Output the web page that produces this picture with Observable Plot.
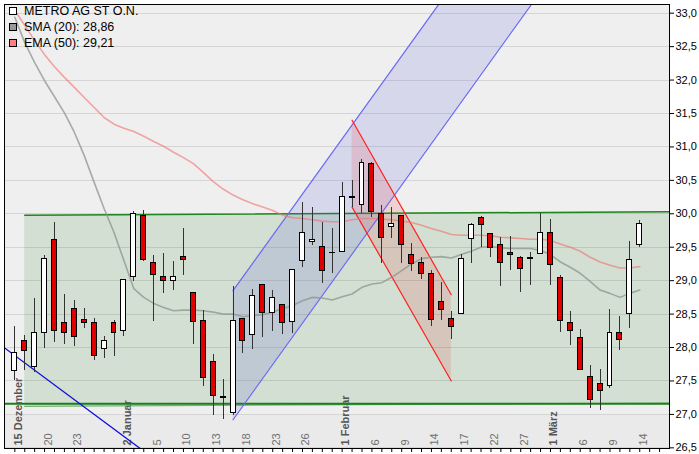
<!DOCTYPE html>
<html><head><meta charset="utf-8">
<script src="https://cdn.jsdelivr.net/npm/d3@7"></script>
<script src="https://cdn.jsdelivr.net/npm/@observablehq/plot@0.6"></script>
<style>
body{margin:0;background:#fff;font-family:"Liberation Sans",Arial,sans-serif;}
#wrap{position:relative;width:699px;height:454px;}
.leg{position:absolute;left:9px;height:14px;font-size:12.5px;color:#000;display:flex;align-items:center;white-space:nowrap;}
.sw{width:6px;height:6px;border:1px solid #000;margin-right:7px;}
</style></head><body><div id="wrap"></div>
<script>
// Trading-day index 0..63 = 15 Dec 2011 .. 14 Mar 2012
const open  = [27.65,28.10,27.71,28.22,29.61,28.36,28.58,28.41,28.36,27.98,28.36,28.24,29.05,29.97,29.27,29.05,29.00,29.36,28.82,28.40,27.79,27.26,27.02,28.43,28.18,28.94,28.51,28.63,28.38,29.30,29.58,29.51,29.42,29.43,30.25,30.13,30.75,29.99,29.80,29.96,29.39,29.26,29.10,28.68,28.43,28.50,29.63,29.93,29.70,29.54,29.42,29.34,29.34,29.40,29.72,29.04,28.36,28.15,27.56,27.46,27.42,28.21,28.50,29.54];
const high  = [28.31,28.18,28.74,29.38,29.87,28.80,28.70,28.58,28.44,28.17,28.40,29.02,30.03,30.05,29.38,29.41,29.29,29.78,28.83,28.56,27.90,27.52,28.92,28.44,28.87,28.95,28.85,28.65,29.16,30.17,30.09,29.87,29.78,30.47,30.50,30.81,30.76,30.12,30.09,29.97,29.55,29.34,29.15,28.97,28.54,29.39,29.86,29.96,29.71,29.65,29.66,29.36,29.42,30.01,29.91,29.08,28.54,28.27,27.73,27.67,28.57,28.46,29.59,29.90];
const low   = [27.50,27.65,27.62,27.99,28.08,28.05,28.01,28.28,27.80,27.83,27.87,28.16,28.99,29.28,28.39,28.81,28.86,29.08,28.04,27.41,26.99,26.92,26.99,27.91,27.97,28.15,28.24,28.19,28.21,29.20,29.52,28.96,29.10,29.43,30.10,30.01,29.95,29.26,29.63,29.26,29.13,29.01,28.32,28.41,28.12,28.49,29.25,29.49,29.34,28.92,29.15,28.83,28.93,29.40,28.93,28.23,28.03,27.67,27.09,27.06,27.39,27.95,28.29,29.50];
const close = [27.92,27.95,28.22,29.33,28.24,28.22,28.16,28.37,27.88,28.10,28.21,29.01,30.00,29.31,29.09,29.00,29.06,29.31,28.38,27.54,27.27,27.24,28.39,28.10,28.77,28.51,28.74,28.36,29.16,29.72,29.61,29.15,29.41,30.25,30.24,30.76,30.02,29.64,29.85,29.54,29.25,29.10,28.41,28.56,28.31,29.32,29.83,29.83,29.49,29.27,29.39,29.17,29.33,29.72,29.23,28.39,28.24,27.67,27.21,27.35,28.21,28.12,29.31,29.85];
const sma20 = [32.94,32.56,32.26,31.99,31.75,31.51,31.22,30.87,30.47,30.08,29.72,29.30,28.88,28.75,28.66,28.60,28.55,28.56,28.56,28.55,28.53,28.50,28.50,28.46,28.48,28.49,28.53,28.58,28.63,28.70,28.75,28.74,28.71,28.76,28.80,28.90,28.95,28.97,29.05,29.15,29.25,29.33,29.35,29.36,29.34,29.39,29.44,29.50,29.51,29.49,29.48,29.48,29.48,29.45,29.39,29.28,29.20,29.11,28.99,28.86,28.81,28.75,28.81,28.86];
const ema50 = [33.04,32.82,32.59,32.38,32.20,32.04,31.89,31.74,31.59,31.44,31.34,31.28,31.23,31.16,31.08,31.01,30.92,30.84,30.75,30.62,30.48,30.37,30.28,30.21,30.15,30.10,30.05,29.98,29.94,29.93,29.91,29.89,29.88,29.88,29.91,29.93,29.93,29.92,29.91,29.89,29.87,29.83,29.78,29.74,29.69,29.68,29.68,29.68,29.67,29.65,29.64,29.63,29.62,29.62,29.60,29.55,29.50,29.44,29.35,29.28,29.23,29.19,29.19,29.21];

const xLabelIdx  = [0,3,6,11,14,17,20,23,26,29,33,36,39,42,45,48,51,54,57,60,63];
const xLabelText = ["15 Dezember","20","23","2 Januar","5","10","13","18","23","26","1 Februar","6","9","14","17","22","27","1 März","6","9","14"];
const xLabelMonth = [true,false,false,true,false,false,false,false,false,false,true,false,false,false,false,false,false,true,false,false,false];
const yTicks = [26.5,27.0,27.5,28.0,28.5,29.0,29.5,30.0,30.5,31.0,31.5,32.0,32.5,33.0];

// drawn channels / trend lines (index, price)
const greenX = [1, 66], greenUpper = [29.98, 30.03], greenLower = [27.12, 27.17];
const supportX = [-1.04, 66], supportY = [27.16, 27.16];
const blueX = [22, 53], blueUpper = [28.85, 35.25], blueLower = [26.92, 33.32];
const redX = [34, 44], redUpper = [31.40, 28.79], redLower = [30.10, 27.50];
const trendX = [-2, 14], trendY = [28.10, 26.34];

const candles = open.map((o, i) => ({i, o, h: high[i], l: low[i], c: close[i]}));
const labels = xLabelIdx.map((i, k) => ({i, t: xLabelText[k], m: xLabelMonth[k]}));
const green = greenX.map((x, k) => ({x, u: greenUpper[k], l: greenLower[k]}));
const blue = blueX.map((x, k) => ({x, u: blueUpper[k], l: blueLower[k]}));
const red = redX.map((x, k) => ({x, u: redUpper[k], l: redLower[k]}));
const support = supportX.map((x, k) => ({x, y: supportY[k]}));
const trend = trendX.map((x, k) => ({x, y: trendY[k]}));
const sma = sma20.map((v, i) => ({i, v}));
const ema = ema50.map((v, i) => ({i, v}));

const fmt = v => v.toFixed(2).replace(".", ",");

const chart = Plot.plot({
  width: 699, height: 454,
  marginLeft: 4, marginRight: 30, marginTop: 4, marginBottom: 6,
  x: {type: "linear", domain: [-1.04, 66.0], label: null},
  y: {domain: [26.49, 33.13], label: null},
  style: {fontFamily: "Liberation Sans, Arial, sans-serif", fontSize: "11px", background: "#fff"},
  marks: [
    Plot.frame({fill: "#efefef", stroke: "none"}),
    Plot.rect([{y1: 26.49, y2: 27.0}], {x1: -1.04, x2: 66, y1: "y1", y2: "y2", fill: "#eaeaea"}),
    Plot.ruleY(yTicks, {stroke: "#d5d5d5", strokeWidth: 1, shapeRendering: "crispEdges"}),
    Plot.text(labels.filter(d => !d.m), {x: "i", frameAnchor: "bottom", text: "t", rotate: -90, textAnchor: "start", dx: 7, dy: -3, fill: "#707070", fontSize: 11}),
    Plot.text(labels.filter(d => d.m), {x: "i", frameAnchor: "bottom", text: "t", rotate: -90, textAnchor: "start", dx: 7, dy: -3, fill: "#555", fontSize: 11, fontWeight: "bold"}),
    // green channel
    Plot.areaY(green, {x: "x", y1: "l", y2: "u", fill: "rgb(0,110,0)", fillOpacity: 0.12, clip: true}),
    Plot.line(green, {x: "x", y: "u", stroke: "#1f861f", strokeWidth: 1.5, clip: true}),
    Plot.line(green, {x: "x", y: "l", stroke: "#5aa05a", strokeWidth: 1.3, strokeOpacity: 0.8, clip: true}),
    Plot.line(support, {x: "x", y: "y", stroke: "#1a7f1a", strokeWidth: 2, clip: true}),
    // blue rising channel
    Plot.areaY(blue, {x: "x", y1: "l", y2: "u", fill: "rgb(80,80,220)", fillOpacity: 0.15, clip: true}),
    Plot.line(blue, {x: "x", y: "u", stroke: "#6a6af5", strokeWidth: 1.2, clip: true}),
    Plot.line(blue, {x: "x", y: "l", stroke: "#6a6af5", strokeWidth: 1.2, clip: true}),
    // red falling channel
    Plot.areaY(red, {x: "x", y1: "l", y2: "u", fill: "rgb(230,60,60)", fillOpacity: 0.16, clip: true}),
    Plot.line(red, {x: "x", y: "u", stroke: "#ff2020", strokeWidth: 1.2, clip: true}),
    Plot.line(red, {x: "x", y: "l", stroke: "#ff2020", strokeWidth: 1.2, clip: true}),
    // blue trend line
    Plot.line(trend, {x: "x", y: "y", stroke: "#1010dd", strokeWidth: 1.3, clip: true}),
    // moving averages
    Plot.line(sma, {x: "i", y: "v", stroke: "#8c948c", strokeWidth: 1.6, strokeOpacity: 0.75, clip: true}),
    Plot.line(ema, {x: "i", y: "v", stroke: "#f07070", strokeWidth: 1.6, strokeOpacity: 0.6, clip: true}),
    // candles
    Plot.ruleX(candles, {x: "i", y1: "l", y2: "h", stroke: "#333", strokeWidth: 1, shapeRendering: "crispEdges"}),
    Plot.rect(candles, {x1: d => d.i - 0.25, x2: d => d.i + 0.25, y1: d => Math.min(d.o, d.c), y2: d => Math.max(d.o, d.c),
      fill: d => d.c >= d.o ? "#ffffff" : "#e00000", stroke: "#000", strokeWidth: 1, shapeRendering: "crispEdges"}),
    // axes
    Plot.axisY(yTicks, {anchor: "right", tickSize: 4, tickPadding: 2, tickFormat: d => d.toFixed(1).replace(".", ","), fontSize: 11, fill: "#000", stroke: "#000", label: null}),
    Plot.axisX(d3.range(0, 66), {anchor: "bottom", tickSize: 4, tickFormat: () => "", stroke: "#000", label: null}),
    Plot.frame({stroke: "#000", strokeWidth: 1, shapeRendering: "crispEdges"})
  ]
});

const wrap = document.getElementById("wrap");
wrap.appendChild(chart);

const legendItems = [
  {name: "METRO AG ST O.N.", color: "#ffffff", top: 4},
  {name: "SMA (20): " + fmt(sma20[sma20.length - 1]), color: "#999999", top: 20},
  {name: "EMA (50): " + fmt(ema50[ema50.length - 1]), color: "#ff8080", top: 36}
];
for (const it of legendItems) {
  const row = document.createElement("div");
  row.className = "leg";
  row.style.top = it.top + "px";
  const sw = document.createElement("span");
  sw.className = "sw";
  sw.style.background = it.color;
  row.appendChild(sw);
  row.appendChild(document.createTextNode(it.name));
  wrap.appendChild(row);
}
</script></body></html>
